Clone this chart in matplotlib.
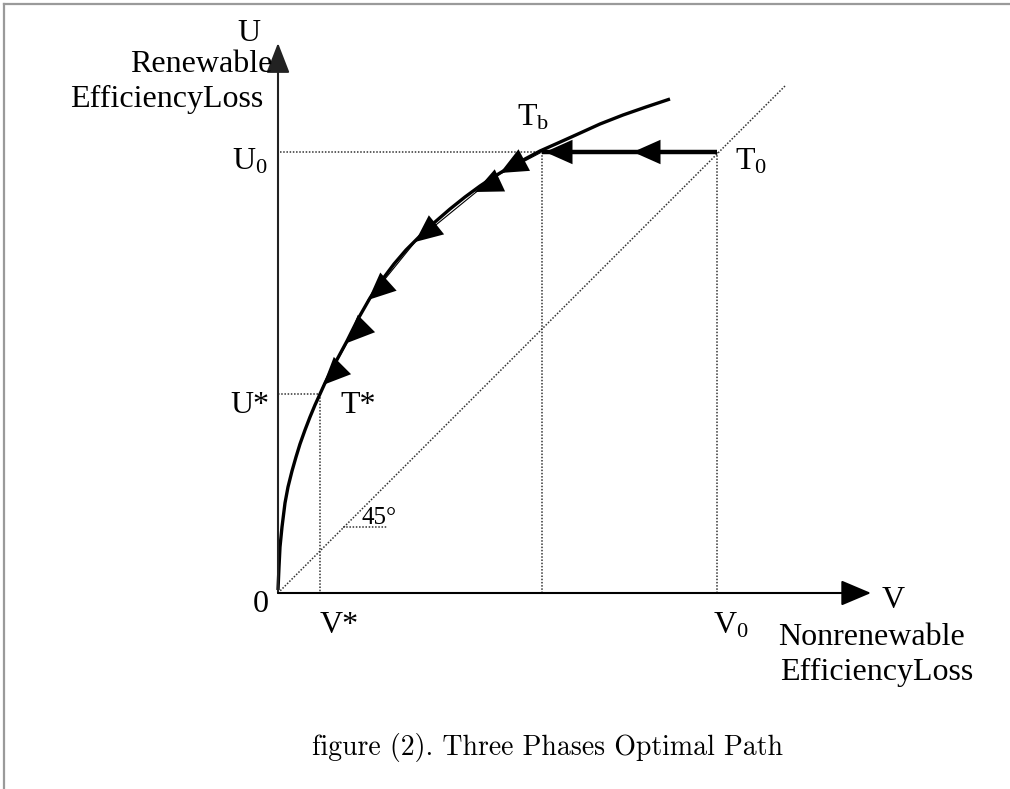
import matplotlib
matplotlib.use("Agg")
import matplotlib.pyplot as plt
from matplotlib.lines import Line2D

plt.rcParams['font.family'] = ['Liberation Serif', 'DejaVu Serif']
plt.rcParams['mathtext.fontset'] = 'custom'
plt.rcParams['mathtext.rm'] = 'Liberation Serif'
plt.rcParams['mathtext.it'] = 'Liberation Serif:italic'
plt.rcParams['mathtext.default'] = 'rm'

# ---- data (diagram units; origin at 0,0, U0 = V0 = 440) ----
curve_v = [0, 1, 2, 4, 7, 10, 14, 18, 22, 27, 32, 37, 42, 47, 55, 69, 80, 92, 104, 116,
           128, 142, 157, 172, 187, 202, 217, 232, 247, 262, 280, 300, 322, 345, 368, 392]
curve_u = [3, 26, 46, 66, 90, 106, 122, 136, 149, 163, 176, 188, 199, 210, 226, 252, 274, 295, 313, 329,
           343, 357, 371, 384, 396, 407, 417, 426, 434, 442, 450, 459, 469, 478, 486, 494]

V0, U0 = 439, 441          # T0
Vb, Ub = 264, 441          # Tb
Vs, Us = 42, 199           # T*

path_v = [262, 222, 197, 137, 90, 69, 45, 42]
path_u = [440, 419, 400, 351, 293, 250, 207, 199]

arrow_tip_v = [267, 355, 222, 197, 137, 90, 69, 45]
arrow_tip_u = [441, 441, 420, 401, 351, 293, 250, 208]
arrow_back_v = [287, 372, 237, 212, 152, 100, 79, 55]
arrow_back_u = [441, 441, 428, 408, 363, 302, 260, 218]

diag_end = 507
axis_v_end, axis_u_end = 593, 550
caption = "figure (2). Three Phases Optimal Path"

# ---- figure ----
fig = plt.figure(figsize=(10.10, 7.89), dpi=100)
ax = fig.add_axes([0, 0, 1, 1])
ax.set_xlim(-278, 732)
ax.set_ylim(-196, 593)
ax.axis('off')

# gray border (top and left)
fig.add_artist(Line2D([0.004, 1.0], [0.995, 0.995], transform=fig.transFigure, color='#9a9a9a', lw=1.6))
fig.add_artist(Line2D([0.004, 0.004], [0.0, 0.995], transform=fig.transFigure, color='#9a9a9a', lw=1.6))

dot = dict(color='#333333', lw=1.1, linestyle=(0, (1, 1.1)))

# axes with arrowheads
ax.annotate("", xy=(0, axis_u_end), xytext=(0, 0),
            arrowprops=dict(arrowstyle="-|>,head_length=0.85,head_width=0.33", mutation_scale=22,
                            color='#222222', lw=1.5, shrinkA=0, shrinkB=0))
ax.annotate("", xy=(axis_v_end, 0), xytext=(0, 0),
            arrowprops=dict(arrowstyle="-|>,head_length=0.85,head_width=0.36", mutation_scale=22,
                            color='black', lw=1.5, shrinkA=0, shrinkB=0))

# dotted guide lines
ax.plot([0, diag_end], [0, diag_end], **dot)
ax.plot([2, V0], [U0, U0], **dot)
ax.plot([V0, V0], [U0, 0], **dot)
ax.plot([Vb, Vb], [Ub, 0], **dot)
ax.plot([0, Vs], [Us, Us], **dot)
ax.plot([Vs, Vs], [Us, 0], **dot)
ax.plot([65, 109], [66, 66], **dot)

# curve
ax.plot(curve_v, curve_u, color='black', lw=2.4, solid_capstyle='butt', solid_joinstyle='round')
# thin path along curve
ax.plot(path_v, path_u, color='black', lw=0.8)
# thick horizontal path T0 -> Tb
ax.plot([V0, Vb], [U0, Ub], color='black', lw=3.2, solid_capstyle='butt')

# arrowheads
for tv, tu, bv, bu in zip(arrow_tip_v, arrow_tip_u, arrow_back_v, arrow_back_u):
    ax.annotate("", xy=(tv, tu), xytext=(bv, bu),
                arrowprops=dict(arrowstyle="-|>,head_length=0.9,head_width=0.4", mutation_scale=22,
                                color='black', lw=0, shrinkA=0, shrinkB=0))

fs = 23
ax.text(-29, 552, "U", fontsize=fs, ha='center', va='baseline')
ax.text(-6, 521, "Renewable", fontsize=fs, ha='right', va='baseline')
ax.text(-15, 486, "EfficiencyLoss", fontsize=fs, ha='right', va='baseline')
ax.text(-46, 423, r"U$_0$", fontsize=fs, ha='left', va='baseline')
ax.text(-48, 180, "U*", fontsize=fs, ha='left', va='baseline')
ax.text(62, 180, "T*", fontsize=fs, ha='left', va='baseline')
ax.text(-25, -19, "0", fontsize=fs, ha='left', va='baseline')
ax.text(42, -40, "V*", fontsize=fs, ha='left', va='baseline')
ax.text(435, -40, r"V$_0$", fontsize=fs, ha='left', va='baseline')
ax.text(604, -15, "V", fontsize=fs, ha='left', va='baseline')
ax.text(500, -52, "Nonrenewable", fontsize=fs, ha='left', va='baseline')
ax.text(502, -87, "EfficiencyLoss", fontsize=fs, ha='left', va='baseline')
ax.text(239, 467, r"T$_\mathrm{b}$", fontsize=fs, ha='left', va='baseline')
ax.text(457, 423, r"T$_0$", fontsize=fs, ha='left', va='baseline')
ax.text(84, 69, "45°", fontsize=18, ha='left', va='baseline')

ax.text(269, -162, caption, fontsize=20, ha='center', va='baseline', family='cmr10')

fig.savefig("out.png", dpi=100)
